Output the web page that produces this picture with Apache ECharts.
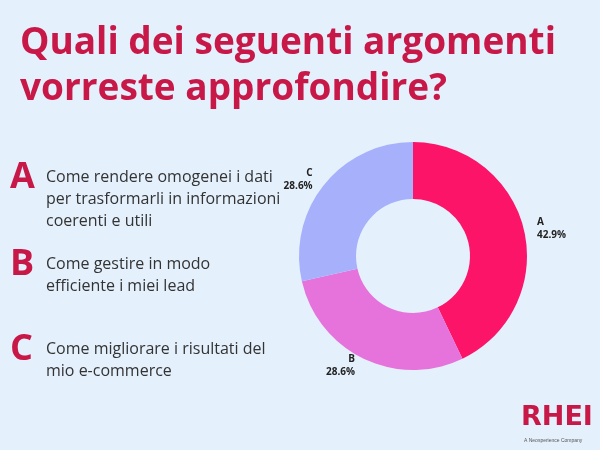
<!DOCTYPE html>
<html>
<head>
<meta charset="utf-8">
<script src="https://cdn.jsdelivr.net/npm/echarts@6/dist/echarts.min.js"></script>
<style>
  html, body { margin: 0; padding: 0; background: #e4f0fc; }
  #chart { width: 600px; height: 450px; }
</style>
</head>
<body>
<div id="chart"></div>
<script>
var categories = ["A", "B", "C"];
var values = [3, 2, 2];
var colors = ["#fc1468", "#e673dc", "#a7b0fb"];
var descriptions = [
    "Come rendere omogenei i dati\nper trasformarli in informazioni\ncoerenti e utili",
    "Come gestire in modo\nefficiente i miei lead",
    "Come migliorare i risultati del\nmio e-commerce"
];
var letterTops = [160, 247, 332];
var total = values.reduce(function (a, b) { return a + b; }, 0);

var chart = echarts.init(document.getElementById("chart"));

var graphics = [
    {
        type: "text", left: 20, top: 20,
        style: {
            text: "Quali dei seguenti argomenti\nvorreste approfondire?",
            font: "bold 37px 'Open Sans', sans-serif",
            fill: "#c81848", lineHeight: 46
        }
    },
    {
        type: "text", left: 521, top: 404,
        style: { text: "RHEI", font: "bold 27px 'DejaVu Sans', sans-serif", fill: "#c81848" }
    },
    {
        type: "text", left: 524, top: 438,
        style: { text: "A Neosperience Company", font: "5px sans-serif", fill: "#555" }
    }
];
categories.forEach(function (c, i) {
    graphics.push({
        type: "text", left: 10, top: letterTops[i],
        style: { text: c, font: "bold 36px 'Open Sans', sans-serif", fill: "#c81848" }
    });
    graphics.push({
        type: "text", left: 46, top: letterTops[i] + 6,
        style: { text: descriptions[i], font: "16px 'Open Sans', sans-serif", fill: "#333", lineHeight: 22 }
    });
});

chart.setOption({
    backgroundColor: "#e4f0fc",
    animation: false,
    graphic: graphics,
    series: [{
        type: "pie",
        center: [413, 256],
        radius: [57, 114],
        startAngle: 90,
        clockwise: true,
        color: colors,
        data: categories.map(function (c, i) { return { name: c, value: values[i] }; }),
        label: {
            show: true,
            position: "outside",
            formatter: function (p) { return p.name + "\n" + (p.value / total * 100).toFixed(1) + "%"; },
            fontFamily: "Open Sans",
            fontWeight: "bold",
            fontSize: 10,
            color: "#222",
            lineHeight: 13,
            align: "center"
        },
        labelLine: { show: false, length: 8, length2: 0 }
    }]
});
</script>
</body>
</html>
